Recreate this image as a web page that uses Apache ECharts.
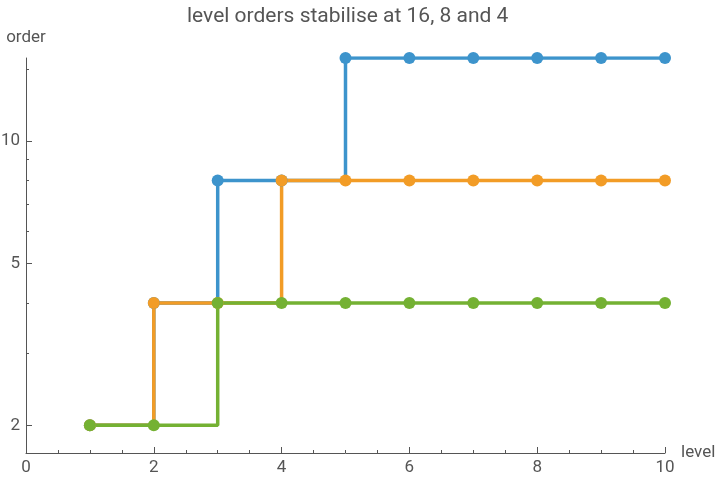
<!DOCTYPE html>
<html>
<head>
<meta charset="utf-8">
<script src="https://cdn.jsdelivr.net/npm/echarts@6/dist/echarts.min.js"></script>
<style>
html, body { margin: 0; padding: 0; background: #fff; }
#chart { width: 720px; height: 484px; }
</style>
</head>
<body>
<div id="chart"></div>
<script>
var levels = [1, 2, 3, 4, 5, 6, 7, 8, 9, 10];
var orderA = [2, 4, 8, 8, 16, 16, 16, 16, 16, 16];
var orderB = [2, 4, 4, 8, 8, 8, 8, 8, 8, 8];
var orderC = [2, 2, 4, 4, 4, 4, 4, 4, 4, 4];
var yLabels = [2, 5, 10];
var yMinorTicks = [3, 4, 6, 7, 8, 9, 15];
var yRange = [1.71, 16];

// log axis drawn as a value axis on log10 of the orders
var lg = function(v) { return Math.log10(v); };
var pairs = function(vals) {
	var res = [];
	for (var i = 0; i < levels.length; i++) {
		res.push([levels[i], lg(vals[i])]);
	}
	return res;
};

var grey = '#555';
var font = 'Roboto';

var chart = echarts.init(document.getElementById('chart'));

var makeSeries = function(name, vals, color) {
	return {
		name: name,
		type: 'line',
		step: 'end',
		data: pairs(vals),
		symbol: 'circle',
		symbolSize: 12,
		clip: true,
		itemStyle: { color: color },
		lineStyle: { color: color, width: 3.5 },
		emphasis: { disabled: true },
		animation: false
	};
};

chart.setOption({
	textStyle: { fontFamily: font },
	title: {
		text: 'level orders stabilise at 16, 8 and 4',
		left: 182,
		top: 1,
		textStyle: { color: grey, fontSize: 21, fontWeight: 'normal', fontFamily: font }
	},
	grid: { left: 26, right: 55, top: 58, bottom: 31, containLabel: false, outerBoundsMode: 'none' },
	xAxis: {
		type: 'value',
		min: 0,
		max: 10,
		interval: 2,
		name: 'level',
		nameLocation: 'end',
		nameGap: 16,
		nameTextStyle: { color: grey, fontSize: 17, fontFamily: font, verticalAlign: 'middle' },
		axisLine: { show: true, lineStyle: { color: grey, width: 1 } },
		axisTick: { show: true, inside: true, length: 6, lineStyle: { color: grey } },
		minorTick: { show: true, splitNumber: 4, length: 3, lineStyle: { color: grey } },
		axisLabel: { color: grey, fontSize: 17, margin: 6, fontFamily: font },
		splitLine: { show: false }
	},
	yAxis: [{
		type: 'value',
		min: lg(yRange[0]),
		max: lg(yRange[1]),
		name: 'order',
		nameLocation: 'end',
		nameGap: 12,
		nameTextStyle: { color: grey, fontSize: 17, fontFamily: font, align: 'center' },
		axisLine: { show: true, lineStyle: { color: grey, width: 1 } },
		axisTick: {
			show: true, inside: true, length: 6, lineStyle: { color: grey },
			customValues: yLabels.map(lg)
		},
		axisLabel: {
			color: grey, fontSize: 17, margin: 6, fontFamily: font,
			customValues: yLabels.map(lg),
			formatter: function(v) { return String(Math.round(Math.pow(10, v))); }
		},
		splitLine: { show: false }
	}, {
		type: 'value',
		min: lg(yRange[0]),
		max: lg(yRange[1]),
		position: 'left',
		axisLine: { show: false },
		axisTick: {
			show: true, inside: true, length: 3, lineStyle: { color: grey },
			customValues: yMinorTicks.map(lg)
		},
		axisLabel: { show: false, customValues: yMinorTicks.map(lg) },
		splitLine: { show: false }
	}],
	series: [
		makeSeries('A', orderA, '#3d94cc'),
		makeSeries('B', orderB, '#f29c26'),
		makeSeries('C', orderC, '#74b133')
	]
});
window.onresize = chart.resize;
</script>
</body>
</html>
